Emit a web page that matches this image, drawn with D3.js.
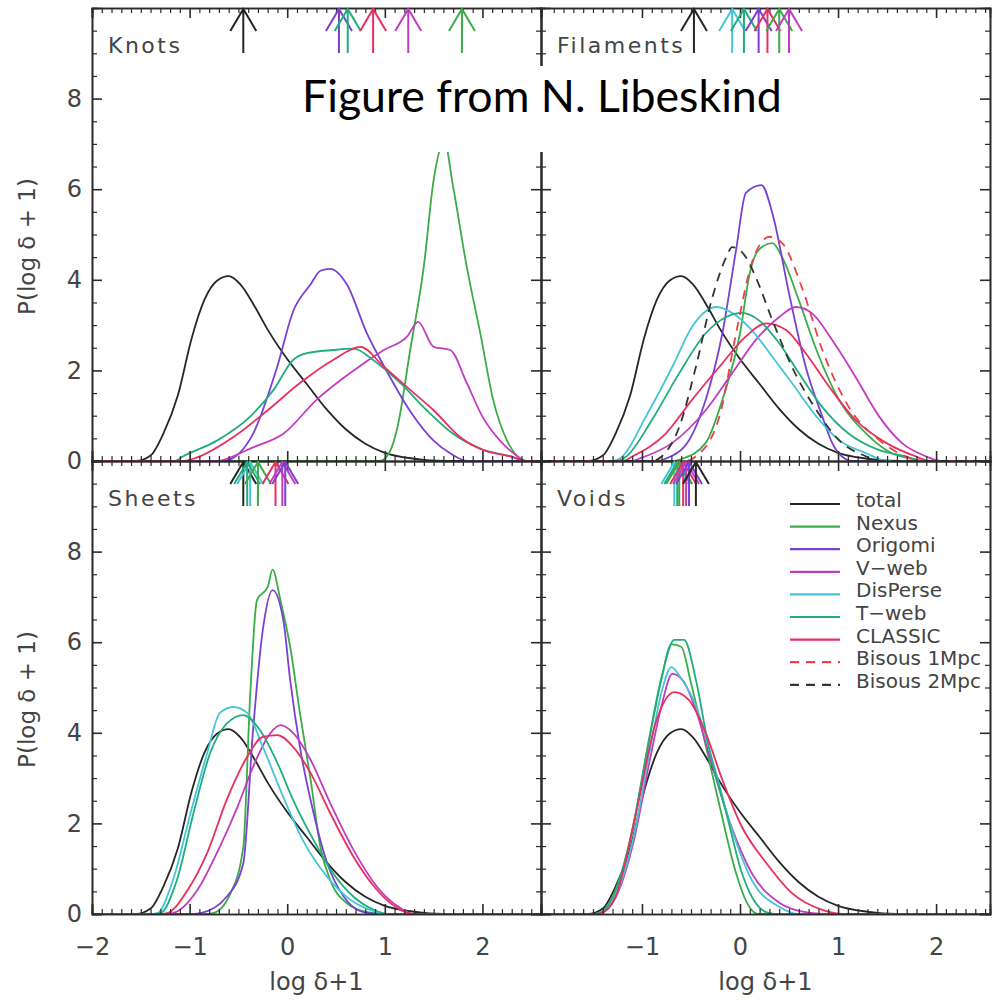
<!DOCTYPE html>
<html>
<head>
<meta charset="utf-8">
<script src="https://cdn.jsdelivr.net/npm/d3@7"></script>
<style>
  body { margin: 0; background: #fff; }
  svg { display: block; }
</style>
</head>
<body>
<svg id="chart" width="994" height="1003"></svg>
<script>
// P(log delta + 1), [log(delta+1), P] pairs
const totalPdf = [[-2,0],[-1.55,0],[-1.4,0.12],[-1.27,0.6],[-1.12,1.45],[-0.98,2.7],[-0.85,3.55],[-0.72,3.98],[-0.6,4.08],[-0.48,3.9],[-0.33,3.4],[-0.2,2.9],[0,2.25],[0.2,1.7],[0.4,1.15],[0.6,0.7],[0.8,0.38],[1.0,0.18],[1.3,0.05],[1.6,0],[2.6,0]];

const knotsNexus = [[-2,0],[0.95,0],[1.05,0.2],[1.13,0.75],[1.26,2.45],[1.4,4.3],[1.5,6.2],[1.61,7.05],[1.7,6.05],[1.84,4.28],[1.98,2.8],[2.11,1.35],[2.25,0.46],[2.36,0.1],[2.45,0],[2.6,0]];
const knotsOrigomi = [[-2,0],[-0.65,0],[-0.55,0.07],[-0.35,0.6],[-0.1,2.1],[0.06,3.3],[0.24,3.9],[0.34,4.2],[0.44,4.24],[0.61,3.9],[0.82,2.8],[0.99,2.1],[1.26,1.1],[1.5,0.45],[1.67,0.17],[1.85,0],[2.6,0]];
const knotsVweb = [[-2,0],[-0.7,0],[-0.62,0.05],[-0.35,0.3],[-0.04,0.6],[0.3,1.35],[0.65,1.95],[0.99,2.45],[1.23,2.75],[1.34,3.07],[1.5,2.52],[1.67,2.45],[1.84,1.72],[2.0,0.98],[2.18,0.45],[2.32,0.17],[2.45,0],[2.6,0]];
const knotsTweb = [[-2,0],[-1.15,0],[-1.07,0.1],[-0.72,0.45],[-0.38,0.98],[-0.14,1.57],[0.06,2.23],[0.2,2.38],[0.47,2.45],[0.68,2.48],[0.88,2.23],[1.16,1.72],[1.43,1.12],[1.7,0.6],[2.0,0.25],[2.29,0.1],[2.45,0],[2.6,0]];
const knotsClassic = [[-2,0],[-1.05,0],[-0.96,0.05],[-0.55,0.53],[-0.2,1.12],[0.13,1.72],[0.47,2.23],[0.75,2.52],[0.99,2.08],[1.26,1.57],[1.5,1.12],[1.77,0.53],[2.0,0.25],[2.29,0.1],[2.45,0],[2.6,0]];

const filOrigomi = [[-2,0],[-0.85,0],[-0.76,0.05],[-0.52,0.46],[-0.35,1.35],[-0.18,2.82],[-0.04,4.66],[0.06,5.92],[0.22,6.09],[0.33,5.47],[0.5,3.7],[0.67,2.08],[0.84,0.98],[0.94,0.4],[1.04,0.1],[1.15,0],[2.6,0]];
const filNexus = [[-2,0],[-0.7,0],[-0.59,0.05],[-0.35,0.4],[-0.18,1.35],[0,2.82],[0.1,4.15],[0.19,4.66],[0.33,4.81],[0.43,4.5],[0.6,3.55],[0.78,2.45],[1.01,1.35],[1.29,0.6],[1.55,0.17],[1.76,0.05],[1.9,0],[2.6,0]];
const filVweb = [[-2,0],[-1.1,0],[-1.03,0.05],[-0.69,0.4],[-0.35,1.12],[-0.08,1.94],[0.16,2.67],[0.4,3.18],[0.57,3.4],[0.73,3.27],[0.94,2.67],[1.18,1.85],[1.42,0.98],[1.65,0.4],[1.9,0.1],[2.05,0],[2.6,0]];
const filDisperse = [[-2,0],[-1.3,0],[-1.2,0.1],[-0.96,0.98],[-0.69,2.08],[-0.49,2.96],[-0.24,3.4],[-0.08,3.27],[0.12,2.89],[0.33,2.3],[0.53,1.72],[0.78,0.98],[1.01,0.46],[1.29,0.17],[1.5,0],[2.6,0]];
const filTweb = [[-2,0],[-1.25,0],[-1.16,0.1],[-0.9,0.9],[-0.62,1.94],[-0.35,2.82],[-0.14,3.18],[0.02,3.27],[0.19,3.11],[0.4,2.6],[0.6,1.94],[0.84,1.19],[1.11,0.6],[1.42,0.24],[1.69,0.1],[1.85,0],[2.6,0]];
const filClassic = [[-2,0],[-1.2,0],[-1.1,0.1],[-0.76,0.6],[-0.49,1.35],[-0.21,2.08],[0.06,2.75],[0.27,3.04],[0.47,2.89],[0.67,2.38],[0.91,1.64],[1.18,0.9],[1.49,0.4],[1.76,0.13],[1.95,0],[2.6,0]];
const filBisous1 = [[-2,0],[-0.55,0],[-0.45,0.1],[-0.21,0.98],[-0.04,2.82],[0.12,4.37],[0.3,4.95],[0.43,4.81],[0.63,3.84],[0.84,2.45],[1.11,1.19],[1.42,0.46],[1.69,0.1],[1.85,0],[2.6,0]];
const filBisous2 = [[-2,0],[-0.9,0],[-0.8,0.1],[-0.62,0.75],[-0.45,2.08],[-0.29,3.55],[-0.14,4.5],[-0.08,4.72],[0.06,4.5],[0.16,4.06],[0.33,3.11],[0.53,2.08],[0.78,1.12],[1.01,0.46],[1.29,0.1],[1.45,0],[2.6,0]];

const shNexus = [[-2,0],[-0.85,0],[-0.76,0.02],[-0.58,0.46],[-0.45,1.48],[-0.38,4.8],[-0.31,6.93],[-0.2,7.22],[-0.15,7.6],[-0.07,6.93],[0.03,5.9],[0.13,4.44],[0.24,2.96],[0.34,1.48],[0.44,0.75],[0.61,0.24],[0.82,0.04],[1.0,0],[2.6,0]];
const shOrigomi = [[-2,0],[-1.0,0],[-0.89,0.02],[-0.62,0.38],[-0.45,1.12],[-0.35,4.06],[-0.25,6.27],[-0.15,7.15],[-0.04,6.49],[0.03,5.17],[0.13,3.69],[0.27,2.23],[0.41,1.12],[0.58,0.38],[0.78,0.04],[0.95,0],[2.6,0]];
const shVweb = [[-2,0],[-1.25,0],[-1.17,0.02],[-0.92,0.53],[-0.72,1.35],[-0.51,2.36],[-0.35,3.25],[-0.17,4.0],[-0.07,4.17],[0.06,4.0],[0.24,3.4],[0.44,2.45],[0.68,1.41],[0.92,0.6],[1.16,0.13],[1.3,0],[2.6,0]];
const shDisperse = [[-2,0],[-1.42,0],[-1.33,0.02],[-1.17,0.75],[-0.99,2.23],[-0.82,3.55],[-0.69,4.44],[-0.55,4.57],[-0.41,4.44],[-0.25,3.69],[-0.04,2.58],[0.16,1.63],[0.41,0.82],[0.65,0.31],[0.85,0.09],[1.0,0],[2.6,0]];
const shTweb = [[-2,0],[-1.4,0],[-1.3,0.02],[-1.13,0.75],[-0.96,2.23],[-0.79,3.55],[-0.62,4.2],[-0.45,4.39],[-0.28,4.06],[-0.1,3.33],[0.06,2.52],[0.27,1.63],[0.47,0.9],[0.68,0.38],[0.88,0.1],[1.05,0],[2.6,0]];
const shClassic = [[-2,0],[-1.32,0],[-1.23,0.02],[-1.02,0.53],[-0.82,1.35],[-0.62,2.52],[-0.41,3.47],[-0.25,3.91],[-0.1,3.95],[0.06,3.69],[0.24,3.11],[0.44,2.23],[0.68,1.26],[0.92,0.53],[1.16,0.09],[1.3,0],[2.6,0]];

const voNexus = [[-2,0],[-1.52,0],[-1.44,0.02],[-1.27,0.5],[-1.1,1.8],[-0.93,3.8],[-0.8,5.2],[-0.7,5.95],[-0.6,5.9],[-0.5,5.1],[-0.39,4.1],[-0.21,2.4],[-0.04,0.9],[0.07,0.25],[0.18,0],[2.6,0]];
const voVweb = [[-2,0],[-1.5,0],[-1.42,0.02],[-1.25,0.45],[-1.08,1.65],[-0.92,3.4],[-0.8,4.6],[-0.69,5.3],[-0.58,5.15],[-0.45,4.5],[-0.3,3.4],[-0.1,2.0],[0.12,0.9],[0.4,0.25],[0.7,0.03],[0.9,0],[2.6,0]];
const voDisperse = [[-2,0],[-1.5,0],[-1.42,0.02],[-1.25,0.5],[-1.08,1.75],[-0.92,3.6],[-0.8,4.9],[-0.7,5.45],[-0.6,5.2],[-0.45,4.6],[-0.29,3.47],[-0.08,1.85],[0.12,0.75],[0.4,0.16],[0.6,0],[2.6,0]];
const voTweb = [[-2,0],[-1.52,0],[-1.44,0.02],[-1.27,0.53],[-1.1,1.85],[-0.93,3.84],[-0.8,5.23],[-0.67,6.05],[-0.57,6.05],[-0.45,5.17],[-0.32,3.69],[-0.14,2.23],[0.02,0.9],[0.16,0.24],[0.3,0.02],[0.4,0],[2.6,0]];
const voClassic = [[-2,0],[-1.5,0],[-1.42,0.02],[-1.27,0.38],[-1.06,2.23],[-0.86,4.22],[-0.67,4.9],[-0.52,4.72],[-0.35,4.0],[-0.18,2.96],[0.02,1.92],[0.27,1.12],[0.53,0.46],[0.84,0.09],[1.05,0],[2.6,0]];

// medians, drawn as arrows at the top of each panel
const knotsMedians = [['total',-0.45],['Origomi',0.53],['T-web',0.62],['CLASSIC',0.88],['V-web',1.24],['Nexus',1.79]];
const filMedians = [['total',-0.47],['DisPerse',-0.08],['T-web',0.04],['Origomi',0.19],['CLASSIC',0.28],['Nexus',0.4],['V-web',0.5]];
const shMedians = [['total',-0.45],['DisPerse',-0.38],['T-web',-0.41],['Nexus',-0.3],['CLASSIC',-0.12],['V-web',-0.05],['Origomi',-0.02]];
const voMedians = [['DisPerse',-0.67],['T-web',-0.64],['Nexus',-0.62],['CLASSIC',-0.58],['V-web',-0.55],['Origomi',-0.52],['total',-0.45]];

const SERIES = ['total','Nexus','Origomi','V-web','DisPerse','T-web','CLASSIC','Bisous 1Mpc','Bisous 2Mpc'];
const COLORS = {
  'total': '#262626',
  'Nexus': '#3aac48',
  'Origomi': '#7a40d4',
  'V-web': '#c23cc2',
  'DisPerse': '#44c6d8',
  'T-web': '#1fae7c',
  'CLASSIC': '#e8305e',
  'Bisous 1Mpc': '#e8404e',
  'Bisous 2Mpc': '#333333',
};
const DASHED = { 'Bisous 1Mpc': '9,7', 'Bisous 2Mpc': '9,7' };

const xMajorLeft = [-2, -1, 0, 1, 2];
const xMajorRight = [-1, 0, 1, 2];
const yMajor = [0, 2, 4, 6, 8];

const panels = [
  { name: 'Knots', col: 0, row: 0, medians: knotsMedians,
    curves: { 'total': totalPdf, 'Nexus': knotsNexus, 'Origomi': knotsOrigomi, 'V-web': knotsVweb, 'T-web': knotsTweb, 'CLASSIC': knotsClassic } },
  { name: 'Filaments', col: 1, row: 0, medians: filMedians,
    curves: { 'total': totalPdf, 'Nexus': filNexus, 'Origomi': filOrigomi, 'V-web': filVweb, 'DisPerse': filDisperse, 'T-web': filTweb, 'CLASSIC': filClassic, 'Bisous 1Mpc': filBisous1, 'Bisous 2Mpc': filBisous2 } },
  { name: 'Sheets', col: 0, row: 1, medians: shMedians,
    curves: { 'total': totalPdf, 'Nexus': shNexus, 'Origomi': shOrigomi, 'V-web': shVweb, 'DisPerse': shDisperse, 'T-web': shTweb, 'CLASSIC': shClassic } },
  { name: 'Voids', col: 1, row: 1, medians: voMedians,
    curves: { 'total': totalPdf, 'Nexus': voNexus, 'V-web': voVweb, 'DisPerse': voDisperse, 'T-web': voTweb, 'CLASSIC': voClassic } },
];

const FRAME = '#2a2a2a';
const TEXT = '#444';
const FONT = "'DejaVu Sans', sans-serif";

const xScales = [
  d3.scaleLinear().domain([-2, 2.6]).range([92, 541]),
  d3.scaleLinear().domain([-2.03, 2.55]).range([541, 990]),
];
const yScales = [
  d3.scaleLinear().domain([0, 10]).range([461, 8]),
  d3.scaleLinear().domain([0, 10]).range([914, 461]),
];

const svg = d3.select('#chart');
svg.append('rect').attr('width', 994).attr('height', 1003).attr('fill', '#fff');

const xMinor = (x) => d3.range(-20, 27).map(d => d / 10).filter(d => d >= x.domain()[0] && d <= x.domain()[1] && d % 1 !== 0);
const yMinor = d3.range(0, 21).map(d => d / 2).filter(d => d % 2 !== 0);

const styleAxis = (g, width) => {
  g.select('.domain').attr('stroke', FRAME).attr('stroke-width', 1.6);
  g.selectAll('.tick line').attr('stroke', FRAME).attr('stroke-width', width);
  g.selectAll('.tick text').attr('fill', TEXT).attr('font-size', 24).attr('font-family', FONT);
};

panels.forEach((p) => {
  const x = xScales[p.col];
  const y = yScales[p.row];
  const [x0, x1] = x.range();
  const [y1, y0] = y.range();
  const g = svg.append('g').attr('class', 'panel');

  g.append('clipPath').attr('id', `clip-${p.name}`)
    .append('rect').attr('x', x0).attr('y', y0).attr('width', x1 - x0).attr('height', y1 - y0);

  const line = d3.line().x(d => x(d[0])).y(d => y(d[1])).curve(d3.curveMonotoneX);

  g.append('g').attr('clip-path', `url(#clip-${p.name})`)
    .selectAll('path')
    .data(SERIES.filter(s => p.curves[s]))
    .join('path')
    .attr('d', s => line(p.curves[s]))
    .attr('fill', 'none')
    .attr('stroke', s => COLORS[s])
    .attr('stroke-width', 1.8)
    .attr('stroke-dasharray', s => DASHED[s] || null)
    .attr('stroke-linejoin', 'round');

  // axes on all four sides, ticks pointing inwards
  const majorX = p.col === 0 ? xMajorLeft : xMajorRight;
  const showX = p.row === 1;
  const showY = p.col === 0;

  g.append('g').attr('transform', `translate(0,${y1})`)
    .call(d3.axisBottom(x).tickValues(majorX).tickSize(-10).tickPadding(24).tickFormat(d => showX ? d3.format('')(d).replace('-', '\u2212') : ''))
    .call(a => styleAxis(a, 1.6));
  g.append('g').attr('transform', `translate(0,${y1})`)
    .call(d3.axisBottom(x).tickValues(xMinor(x)).tickSize(-5).tickFormat(''))
    .call(a => styleAxis(a, 1.2));
  g.append('g').attr('transform', `translate(0,${y0})`)
    .call(d3.axisTop(x).tickValues(majorX).tickSize(-10).tickFormat(''))
    .call(a => styleAxis(a, 1.6));
  g.append('g').attr('transform', `translate(0,${y0})`)
    .call(d3.axisTop(x).tickValues(xMinor(x)).tickSize(-5).tickFormat(''))
    .call(a => styleAxis(a, 1.2));

  g.append('g').attr('transform', `translate(${x0},0)`)
    .call(d3.axisLeft(y).tickValues(yMajor).tickSize(-10).tickPadding(10).tickFormat(d => showY ? d : ''))
    .call(a => styleAxis(a, 1.6));
  g.append('g').attr('transform', `translate(${x0},0)`)
    .call(d3.axisLeft(y).tickValues(yMinor).tickSize(-5).tickFormat(''))
    .call(a => styleAxis(a, 1.2));
  g.append('g').attr('transform', `translate(${x1},0)`)
    .call(d3.axisRight(y).tickValues(yMajor).tickSize(-10).tickFormat(''))
    .call(a => styleAxis(a, 1.6));
  g.append('g').attr('transform', `translate(${x1},0)`)
    .call(d3.axisRight(y).tickValues(yMinor).tickSize(-5).tickFormat(''))
    .call(a => styleAxis(a, 1.2));

  // median arrows
  const top = y0 + 1;
  g.append('g')
    .selectAll('path')
    .data(p.medians)
    .join('path')
    .attr('d', d => {
      const px = x(d[1]);
      return `M${px - 13},${top + 22}L${px},${top}L${px + 13},${top + 22}M${px},${top}L${px},${top + 44}`;
    })
    .attr('fill', 'none')
    .attr('stroke', d => COLORS[d[0]])
    .attr('stroke-width', 2);

  g.append('text')
    .attr('x', x0 + 16)
    .attr('y', y0 + 45)
    .attr('font-family', FONT)
    .attr('font-size', 22)
    .attr('letter-spacing', 2.5)
    .attr('fill', TEXT)
    .text(p.name);

  if (showX) {
    g.append('text')
      .attr('x', (x0 + x1) / 2)
      .attr('y', 990)
      .attr('text-anchor', 'middle')
      .attr('font-family', FONT)
      .attr('font-size', 24)
      .attr('fill', TEXT)
      .text('log \u03b4+1');
  }
  if (showY) {
    g.append('text')
      .attr('transform', `translate(35,${(y0 + y1) / 2 + 12}) rotate(-90)`)
      .attr('text-anchor', 'middle')
      .attr('font-family', FONT)
      .attr('font-size', 23)
      .attr('fill', TEXT)
      .text('P(log \u03b4 + 1)');
  }
});

// legend in the Voids panel
const legend = svg.append('g').attr('transform', 'translate(790,505)');
legend.selectAll('g')
  .data(SERIES)
  .join('g')
  .attr('transform', (_d, i) => `translate(0,${i * 22.6})`)
  .call(row => row.append('line')
    .attr('x1', 0).attr('x2', 50).attr('y1', -1).attr('y2', -1)
    .attr('stroke', d => COLORS[d])
    .attr('stroke-width', 2.2)
    .attr('stroke-dasharray', d => DASHED[d] || null))
  .call(row => row.append('text')
    .attr('x', 66).attr('y', 2)
    .attr('font-family', FONT)
    .attr('font-size', 20)
    .attr('fill', TEXT)
    .text(d => d.replace('-', '\u2212')));

// pasted caption over the figure
svg.append('rect').attr('x', 288).attr('y', 66).attr('width', 512).attr('height', 86).attr('fill', '#fff');
const caption = svg.append('text')
  .attr('x', 302).attr('y', 112)
  .attr('font-family', "Lato, 'Open Sans', sans-serif")
  .attr('font-size', 36)
  .attr('fill', '#000')
  .text('Figure from N. Libeskind');
const cw = caption.node().getComputedTextLength();
caption.attr('font-size', 36 * 480 / cw);
</script>
</body>
</html>
